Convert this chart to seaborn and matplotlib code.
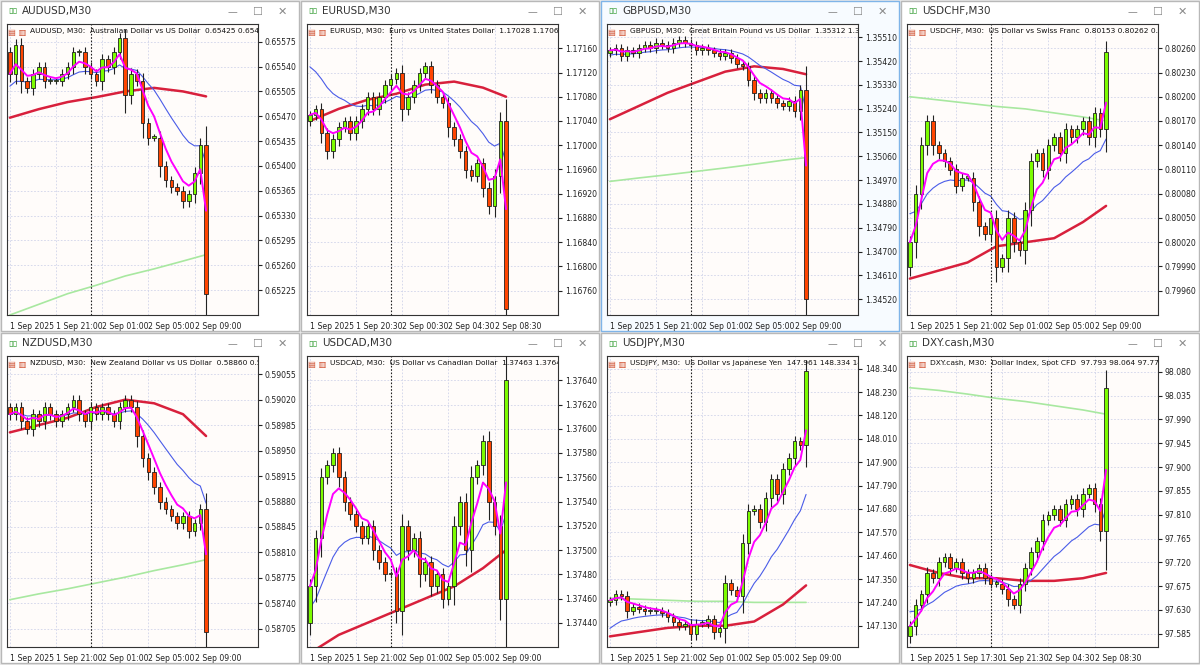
import numpy as np
import pandas as pd
import matplotlib
matplotlib.use("Agg")
import matplotlib.pyplot as plt
from matplotlib.patches import Rectangle
import seaborn as sns

sns.set_style("white")
plt.rcParams['font.family'] = ['DejaVu Sans']

# ---------------- data ----------------
aud_close = [.65530,.65570,.65520,.65510,.65530,.65540,.65520,.65520,.65520,.65530,.65540,.65560,.65560,.65540,.65530,.65520,.65550,.65540,.65560,.65580,.65500,.65530,.65520,.65460,.65440,.65440,.65400,.65380,.65370,.65365,.65350,.65360,.65390,.65430,.65220]
eur_close = [1.17050,1.17060,1.17020,1.16990,1.17010,1.17030,1.17040,1.17020,1.17040,1.17060,1.17080,1.17060,1.17080,1.17100,1.17110,1.17120,1.17060,1.17080,1.17100,1.17120,1.17130,1.17100,1.17080,1.17070,1.17030,1.17010,1.16990,1.16960,1.16950,1.16970,1.16930,1.16900,1.16950,1.17040,1.16730]
gbp_close = [1.35460,1.35470,1.35440,1.35460,1.35450,1.35470,1.35480,1.35470,1.35490,1.35480,1.35470,1.35490,1.35500,1.35490,1.35480,1.35460,1.35470,1.35460,1.35450,1.35440,1.35450,1.35430,1.35410,1.35400,1.35350,1.35300,1.35280,1.35300,1.35280,1.35260,1.35250,1.35270,1.35230,1.35310,1.34520]
chf_close = [.80020,.80080,.80140,.80170,.80140,.80130,.80120,.80110,.80090,.80100,.80100,.80070,.80040,.80030,.80050,.79990,.80000,.80050,.80020,.80010,.80060,.80120,.80130,.80110,.80140,.80150,.80130,.80160,.80150,.80160,.80170,.80150,.80180,.80160,.80255]
nzd_close = [.59000,.59010,.58990,.58980,.59000,.58990,.59010,.59000,.58990,.59000,.59010,.59020,.59000,.58990,.59010,.59000,.59010,.59000,.58990,.59010,.59020,.59010,.58970,.58940,.58920,.58900,.58880,.58870,.58860,.58850,.58860,.58840,.58850,.58870,.58700]
cad_close = [1.37470,1.37510,1.37560,1.37570,1.37580,1.37560,1.37540,1.37530,1.37520,1.37510,1.37520,1.37500,1.37490,1.37480,1.37480,1.37450,1.37520,1.37500,1.37510,1.37480,1.37490,1.37470,1.37480,1.37460,1.37470,1.37520,1.37540,1.37500,1.37560,1.37570,1.37590,1.37540,1.37520,1.37460,1.37640]
jpy_close = [147.25,147.28,147.27,147.20,147.22,147.21,147.20,147.20,147.20,147.19,147.17,147.15,147.13,147.14,147.09,147.14,147.14,147.16,147.10,147.12,147.33,147.30,147.27,147.52,147.67,147.68,147.62,147.73,147.82,147.75,147.87,147.92,148.00,147.98,148.33]
dxy_close = [97.600,97.640,97.660,97.700,97.690,97.720,97.730,97.710,97.720,97.700,97.690,97.700,97.710,97.690,97.680,97.680,97.670,97.650,97.640,97.680,97.710,97.740,97.760,97.800,97.810,97.820,97.800,97.830,97.840,97.820,97.850,97.860,97.830,97.780,98.050]

first_open = [.65560, 1.17040, 1.35450, .79990, .59010, 1.37440, 147.24, 97.580]
blue_seed = [.65510, 1.17140, 1.35440, .80060, .59000, 1.37450, 147.10, 97.630]

ma_idx = [0, 5, 10, 15, 20, 25, 30, 34]
red_ma = {
    "AUD": [.65468,.65480,.65490,.65497,.65505,.65510,.65505,.65498],
    "EUR": [1.17040,1.17060,1.17075,1.17085,1.17100,1.17105,1.17095,1.17080],
    "GBP": [1.35200,1.35250,1.35300,1.35340,1.35380,1.35400,1.35390,1.35370],
    "CHF": [.79975,.79985,.79995,.80015,.80020,.80025,.80045,.80065],
    "NZD": [.58975,.58985,.58995,.59010,.59020,.59015,.59000,.58970],
    "CAD": [1.37415,1.37430,1.37440,1.37450,1.37460,1.37470,1.37485,1.37500],
    "JPY": [147.08,147.10,147.12,147.13,147.13,147.15,147.23,147.32],
    "DXY": [97.715,97.700,97.690,97.690,97.685,97.685,97.690,97.700],
}
green_ma = {
    "AUD": [.65190,.65205,.65220,.65232,.65245,.65255,.65266,.65275],
    "GBP": [1.34965,1.34978,1.34990,1.35003,1.35016,1.35030,1.35045,1.35055],
    "CHF": [.80200,.80196,.80192,.80188,.80185,.80180,.80175,.80170],
    "NZD": [.58745,.58753,.58760,.58768,.58776,.58785,.58793,.58800],
    "JPY": [147.26,147.255,147.25,147.245,147.245,147.24,147.24,147.24],
    "DXY": [98.050,98.045,98.038,98.030,98.024,98.016,98.008,98.000],
}

titles = ["AUDUSD,M30","EURUSD,M30","GBPUSD,M30","USDCHF,M30","NZDUSD,M30","USDCAD,M30","USDJPY,M30","DXY.cash,M30"]
keys = ["AUD","EUR","GBP","CHF","NZD","CAD","JPY","DXY"]
headers = [
    "AUDUSD, M30:  Australian Dollar vs US Dollar  0.65425 0.65435 0.652",
    "EURUSD, M30:  Euro vs United States Dollar  1.17028 1.17064 1.1673",
    "GBPUSD, M30:  Great Britain Pound vs US Dollar  1.35312 1.35329 1.3",
    "USDCHF, M30:  US Dollar vs Swiss Franc  0.80153 0.80262 0.80113 0",
    "NZDUSD, M30:  New Zealand Dollar vs US Dollar  0.58860 0.58885 0.",
    "USDCAD, M30:  US Dollar vs Canadian Dollar  1.37463 1.37646 1.374",
    "USDJPY, M30:  US Dollar vs Japanese Yen  147.961 148.334 147.945",
    "DXY.cash, M30:  Dollar Index, Spot CFD  97.793 98.064 97.774 98.049",
]
time_std = ["1 Sep 2025","1 Sep 21:00","2 Sep 01:00","2 Sep 05:00","2 Sep 09:00"]
time_labels = [time_std, ["1 Sep 2025","1 Sep 20:30","2 Sep 00:30","2 Sep 04:30","2 Sep 08:30"],
               time_std, time_std, time_std, time_std, time_std,
               ["1 Sep 2025","1 Sep 17:30","1 Sep 21:30","2 Sep 04:30","2 Sep 08:30"]]
yticks = [
    (0.65575, 0.65225, 0.00035, 5),
    (1.17160, 1.16760, 0.00040, 5),
    (1.35510, 1.34520, 0.00090, 5),
    (0.80260, 0.79960, 0.00030, 5),
    (0.59055, 0.58705, 0.00035, 5),
    (1.37640, 1.37440, 0.00020, 5),
    (148.340, 147.130, 0.110, 3),
    (98.080, 97.585, 0.045, 3),
]
ylims = [(0.65190, 0.65600), (1.16720, 1.17200), (1.34460, 1.35560), (0.79930, 0.80290),
         (0.58680, 0.59080), (1.37420, 1.37660), (147.03, 148.40), (97.560, 98.110)]
closes = [aud_close, eur_close, gbp_close, chf_close, nzd_close, cad_close, jpy_close, dxy_close]

W, H = 1200, 665
fig = plt.figure(figsize=(12, 6.65), dpi=100)
fig.patch.set_facecolor("#E8E8E8")

def fx(px): return px / W
def fy(py): return 1 - py / H

for i in range(8):
    px = (i % 4) * 300
    py = (i // 4) * 332
    k = keys[i]
    active = (i == 2)
    fig.patches.append(Rectangle((fx(px + 1), fy(py + 331)), 298 / W, 330 / H, transform=fig.transFigure,
                                 facecolor="#F7FBFF" if active else "#FFFFFF",
                                 edgecolor="#7FB4E8" if active else "#B8B8B8", lw=1, zorder=-5))
    fig.text(fx(px + 8), fy(py + 11), "▯▯", color="#2E9A2E", fontsize=6, va="center", fontweight="bold")
    fig.text(fx(px + 22), fy(py + 11), titles[i], fontsize=7.5, va="center", color="#333333")
    fig.text(fx(px + 228), fy(py + 12), "—", fontsize=7, va="center", color="#888888")
    fig.text(fx(px + 252), fy(py + 12), "☐", fontsize=8, va="center", color="#888888")
    fig.text(fx(px + 278), fy(py + 12), "✕", fontsize=8, va="center", color="#888888")

    ax = fig.add_axes([fx(px + 7), fy(py + 315), 251 / W, 291 / H])
    ax.set_facecolor("#FFFCFA")
    c = np.array(closes[i])
    o = np.concatenate([[first_open[i]], c[:-1]])
    n = len(c)
    idx = np.arange(n)
    hi = np.maximum(o, c)
    lo = np.minimum(o, c)
    rng = ylims[i][1] - ylims[i][0]

    fast = pd.Series(c).ewm(span=5, adjust=False).mean().values
    slow = np.concatenate([[blue_seed[i]], c])
    slow = pd.Series(slow).ewm(span=16, adjust=False).mean().values[1:]
    if k in green_ma:
        sns.lineplot(x=ma_idx, y=green_ma[k], ax=ax, color="#A8E8A0", lw=1.2)
    sns.lineplot(x=ma_idx, y=red_ma[k], ax=ax, color="#D8203C", lw=1.8)
    sns.lineplot(x=idx, y=slow, ax=ax, color="#4A5CE8", lw=0.8)

    span = np.abs(c - o)
    ax.vlines(idx, lo - rng * 0.012 - span * 0.25, hi + rng * 0.012 + span * 0.1, color="#222222", lw=0.8, zorder=3)
    colors = np.where(c >= o, "#7CFC00", "#FF4500")
    height = np.where(span < rng * 0.004, rng * 0.004, span)
    ax.bar(idx, height, bottom=lo, width=0.62, color=colors, edgecolor="#222222", lw=0.6, zorder=4)
    sns.lineplot(x=idx, y=fast, ax=ax, color="#FF00FF", lw=1.4, zorder=5)

    ax.axvline(14, color="#222222", ls=(0, (1.5, 1.5)), lw=0.8)
    ax.set_xlim(-0.5, 43)
    ax.set_ylim(*ylims[i])
    top, bot, step, dec = yticks[i]
    ticks = np.arange(top, bot - step / 2, -step)
    ax.set_yticks(ticks)
    ax.set_yticklabels([f"{t:.{dec}f}" for t in ticks])
    ax.yaxis.tick_right()
    ax.set_xticks([0, 8, 16, 24, 32])
    ax.set_xticklabels(time_labels[i])
    for lab in ax.get_xticklabels():
        lab.set_horizontalalignment("left")
    ax.tick_params(axis="both", labelsize=5.6, length=3, colors="#222222", direction="out", pad=2)
    ax.grid(True, color="#D0D4EA", ls=(0, (2, 2)), lw=0.6)
    ax.set_xlabel(""); ax.set_ylabel("")
    for s in ax.spines.values():
        s.set_color("#333333"); s.set_linewidth(0.8)
    ax.text(0.005, 0.985, "▤ ▥ ", transform=ax.transAxes, fontsize=6, va="top", color="#D05030")
    ax.text(0.09, 0.985, headers[i], transform=ax.transAxes, fontsize=5.4, va="top", color="#111111", clip_on=True)

fig.savefig("out.png", dpi=100, facecolor=fig.get_facecolor())
